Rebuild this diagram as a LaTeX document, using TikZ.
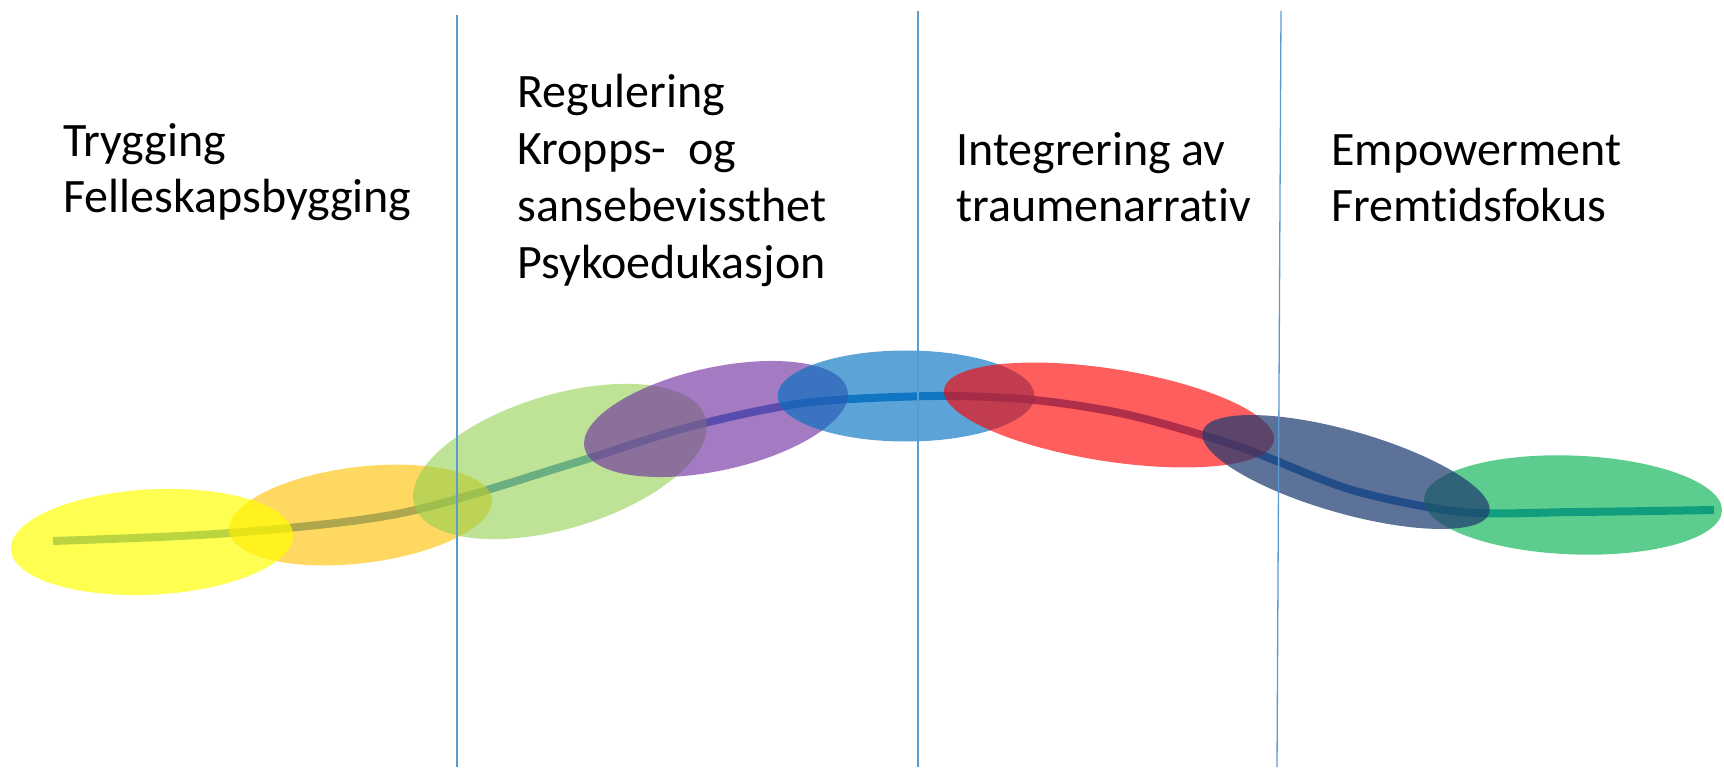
\documentclass[tikz,border=0pt]{standalone}
\usepackage{fontspec}
\setmainfont{Carlito}[Ligatures=NoCommon]
\usepackage{tikz}
\usetikzlibrary{positioning}
\usepackage{xcolor}

\definecolor{divider}{HTML}{5B9BD5}
\definecolor{pathblue}{HTML}{2E7FCB}
\definecolor{phyellow}{HTML}{FFFF00}
\definecolor{phorange}{HTML}{FFC000}
\definecolor{phlime}{HTML}{92D050}
\definecolor{phpurple}{HTML}{7030A0}
\definecolor{phblue}{HTML}{0070C0}
\definecolor{phred}{HTML}{FF0000}
\definecolor{phgreen}{HTML}{00B050}
\definecolor{phnavy}{HTML}{1F3B70}

\tikzset{
  phase/.style={font=\fontsize{24}{28.5}\selectfont, align=left, anchor=base west, inner sep=0pt},
  divline/.style={divider, line width=0.65pt}
}

\begin{document}
\begin{tikzpicture}[x=50pt,y=50pt]
  \useasboundingbox (0,0) rectangle (17.24,7.67);
  % Path through the phases (under the blobs)
  \draw[pathblue, line width=4pt] plot[smooth] coordinates {
    (0.53,2.26) (2.30,2.34) (4.02,2.54) (5.74,3.04) (6.89,3.40) (8.04,3.64)
    (9.34,3.71) (10.34,3.67) (11.29,3.52) (12.40,3.20) (13.52,2.77)
    (14.63,2.55) (15.75,2.55) (17.14,2.57)};
  % Phase blobs: x/y/xr/yr/angle/colour/opacity
  \foreach \px/\py/\rx/\ry/\ang/\col/\op in {
      3.605/2.52/1.323/0.481/7/phorange/0.62,
      1.52/2.25/1.413/0.526/3/phyellow/0.68,
      5.60/3.055/1.52/0.67/16.7/phlime/0.6,
      7.16/3.48/1.347/0.515/12.4/phpurple/0.64,
      9.06/3.71/1.285/0.455/0/phblue/0.64,
      11.09/3.52/1.669/0.462/-8.9/phred/0.63,
      15.73/2.62/1.491/0.494/-2.2/phgreen/0.64,
      13.46/2.95/1.49/0.413/-15.9/phnavy/0.72} {
    \fill[\col, fill opacity=\op, rotate around={\ang:(\px,\py)}]
      (\px,\py) ellipse [x radius=\rx, y radius=\ry];
  }
  % Dividers between the phases
  \draw[divline] (4.57,7.52) -- (4.57,0);
  \draw[divline] (9.18,7.56) -- (9.18,0);
  \draw[divline] (12.81,7.56) -- (12.77,0);
  % Phase labels (anchored on the last line)
  \node[phase] (trygging) at (0.63,5.54) {Trygging\\Felleskapsbygging};
  \node[phase] (regulering) at (5.17,4.88) {Regulering\\Kropps-\ \ og\\sansebevissthet\\Psykoedukasjon};
  \node[phase] (integrering) at (9.56,5.45) {Integrering av\\traumenarrativ};
  \node[phase] (empowerment) at (13.31,5.45) {Empowerment\\Fremtidsfokus};
\end{tikzpicture}
\end{document}
